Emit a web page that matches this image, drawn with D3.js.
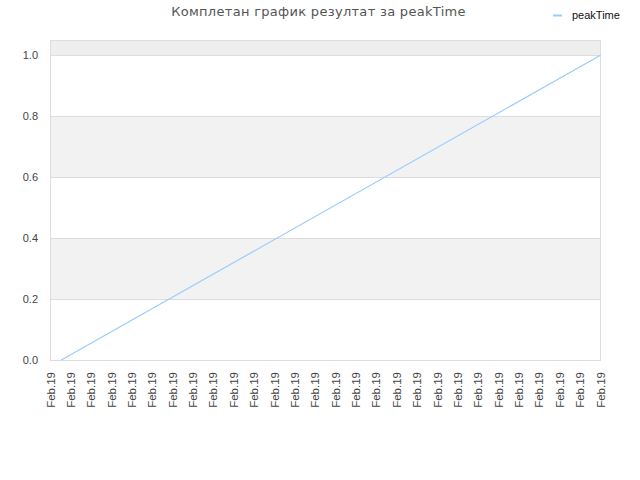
<!DOCTYPE html>
<html>
<head>
<meta charset="utf-8">
<script src="https://cdn.jsdelivr.net/npm/d3@7"></script>
<style>
  body { margin: 0; background: #fff; }
  text { font-family: "Liberation Sans", Arial, sans-serif; }
</style>
</head>
<body>
<script>
// x positions are tick indexes, labels are the same date on every tick
var tickLabels = ["Feb.19","Feb.19","Feb.19","Feb.19","Feb.19","Feb.19","Feb.19",
                  "Feb.19","Feb.19","Feb.19","Feb.19","Feb.19","Feb.19","Feb.19",
                  "Feb.19","Feb.19","Feb.19","Feb.19","Feb.19","Feb.19","Feb.19",
                  "Feb.19","Feb.19","Feb.19","Feb.19","Feb.19","Feb.19","Feb.19"];
var peakX = [0.53, 27];
var peakY = [0, 1];
var yTicks = [0, 0.2, 0.4, 0.6, 0.8, 1.0];

var width = 640, height = 480;
var pLeft = 50.5, pRight = 600.5, pTop = 40, pBottom = 360;

var svg = d3.select("body").append("svg")
    .attr("width", width)
    .attr("height", height);

var x = d3.scaleLinear().domain([0, tickLabels.length - 1]).range([pLeft, pRight]);
var y = d3.scaleLinear().domain([0, 1.05]).range([pBottom, pTop]);

// alternating bands
var bands = [[0.2, 0.4, "#f2f2f2"], [0.6, 0.8, "#f2f2f2"], [1.0, 1.05, "#eeeeee"]];
svg.selectAll("rect.band")
    .data(bands)
    .enter()
    .append("rect")
    .attr("class", "band")
    .attr("x", pLeft)
    .attr("width", pRight - pLeft)
    .attr("y", function(d) { return y(d[1]); })
    .attr("height", function(d) { return y(d[0]) - y(d[1]); })
    .style("fill", function(d) { return d[2]; });

// grid lines
svg.selectAll("line.grid")
    .data(yTicks)
    .enter()
    .append("line")
    .attr("class", "grid")
    .attr("x1", pLeft)
    .attr("x2", pRight)
    .attr("y1", function(d) { return Math.round(y(d)) + 0.5; })
    .attr("y2", function(d) { return Math.round(y(d)) + 0.5; })
    .style("stroke", "#dddddd");

// frame
svg.append("rect")
    .attr("x", pLeft)
    .attr("y", pTop + 0.5)
    .attr("width", pRight - pLeft)
    .attr("height", pBottom - pTop)
    .style("fill", "none")
    .style("stroke", "#dddddd");

// y labels
svg.selectAll("text.ylab")
    .data(yTicks)
    .enter()
    .append("text")
    .attr("class", "ylab")
    .attr("x", 38)
    .attr("y", function(d) { return y(d) + 4; })
    .attr("text-anchor", "end")
    .style("font-size", "11px")
    .style("fill", "#444")
    .text(function(d) { return d.toFixed(1); });

// x labels, rotated
svg.selectAll("text.xlab")
    .data(tickLabels)
    .enter()
    .append("text")
    .attr("class", "xlab")
    .attr("transform", function(d, i) {
        return "translate(" + (x(i) + 4) + "," + (pBottom + 12) + ") rotate(-90)";
    })
    .attr("text-anchor", "end")
    .style("font-size", "11.5px")
    .style("fill", "#444")
    .text(function(d) { return d; });

// the series
var line = d3.line()
    .x(function(d) { return x(d[0]); })
    .y(function(d) { return y(d[1]); });

svg.append("path")
    .attr("d", line(d3.zip(peakX, peakY)))
    .style("fill", "none")
    .style("stroke", "#99ccff")
    .style("stroke-width", "1.2px");

// title
svg.append("text")
    .attr("x", 318.5)
    .attr("y", 16)
    .attr("text-anchor", "middle")
    .style("font-family", "'DejaVu Sans', sans-serif")
    .style("font-size", "13px")
    .style("letter-spacing", "0.3px")
    .style("fill", "#555")
    .text("Комплетан график резултат за peakTime");

// legend
svg.append("line")
    .attr("x1", 553).attr("x2", 562)
    .attr("y1", 15.5).attr("y2", 15.5)
    .style("stroke", "#99ccff")
    .style("stroke-width", "2px");
svg.append("text")
    .attr("x", 572)
    .attr("y", 19)
    .style("font-size", "11px")
    .style("fill", "#111")
    .text("peakTime");
</script>
</body>
</html>
